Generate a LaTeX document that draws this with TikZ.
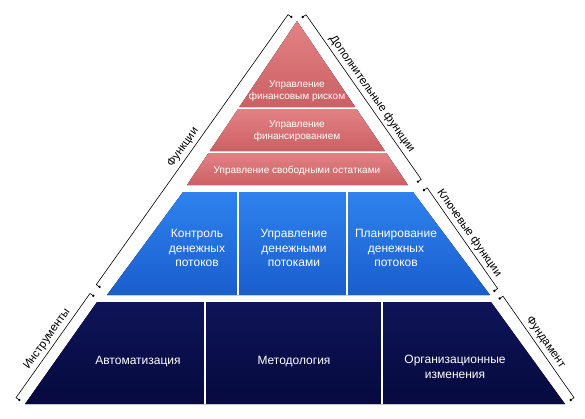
\documentclass[tikz,border=0pt]{standalone}
\usepackage{fontspec}
\setmainfont{Liberation Sans}
\usetikzlibrary{calc}
\definecolor{redA}{RGB}{226,130,133}
\definecolor{redB}{RGB}{204,96,100}
\definecolor{blueA}{RGB}{46,130,238}
\definecolor{blueB}{RGB}{26,94,206}
\definecolor{navyA}{RGB}{14,20,88}
\definecolor{navyB}{RGB}{6,10,62}
\newcommand\mybracket[6]{%
  \coordinate (#1a) at ($(A)!#3!(#2)+7*(#5,#6)$);
  \coordinate (#1b) at ($(A)!#3!(#2)+11*(#5,#6)$);
  \coordinate (#1c) at ($(A)!#4!(#2)+11*(#5,#6)$);
  \coordinate (#1d) at ($(A)!#4!(#2)+7*(#5,#6)$);
  \draw[brk] (#1a) -- (#1b) -- (#1c) -- (#1d);
  \fill (#1a) circle (1.3pt);
  \fill (#1d) circle (1.3pt);
}
\begin{document}
\begin{tikzpicture}[x=1pt,y=-1pt,
  tierred/.style={top color=redA,bottom color=redB},
  tierblue/.style={top color=blueA,bottom color=blueB},
  tiernavy/.style={top color=navyA,bottom color=navyB},
  sep/.style={draw=white,line width=2pt},
  brk/.style={draw=black,line width=0.6pt},
  lbl/.style={font=\fontsize{11.5}{13}\selectfont,inner sep=0pt},
  redtext/.style={text=white,align=center,font=\fontsize{10}{12}\selectfont},
  intext/.style={text=white,align=center,font=\fontsize{12}{14.5}\selectfont}]
\useasboundingbox (0,0) rectangle (585,418);
\coordinate (A) at (297,21);
\coordinate (L) at (25,404);
\coordinate (R) at (565,404);
% red tier
\fill[tierred] (297,21) -- (355.2,107) -- (239.3,107) -- cycle;
\fill[tierred] (238.0,109) -- (356.6,109) -- (385.0,151) -- (209.8,151) -- cycle;
\fill[tierred] (208.5,153) -- (386.4,153) -- (408,185) -- (187,185) -- cycle;
% blue tier
\fill[tierblue] (183,192) -- (413,192) -- (490,295) -- (107,295) -- cycle;
\draw[sep] (238,192) -- (238,295);
\draw[sep] (347,192) -- (347,295);
% navy tier
\fill[tiernavy] (97,302) -- (491,302) -- (565,404) -- (25,404) -- cycle;
\draw[sep] (205,302) -- (205,404);
\draw[sep] (382,302) -- (382,404);
% texts
\node[redtext] (r1) at (297,91) {Управление\\финансовым риском};
\node[redtext] (r2) at (297,131) {Управление\\финансированием};
\node[redtext] (r3) at (297,171) {Управление свободными остатками};
\node[intext] (b1) at (197,248) {Контроль\\денежных\\потоков};
\node[intext] (b2) at (294,248) {Управление\\денежными\\потоками};
\node[intext] (b3) at (396,248) {Планирование\\денежных\\потоков};
\node[intext] (n1) at (138,362) {Автоматизация};
\node[intext] (n2) at (294,362) {Методология};
\node[intext] (n3) at (455,367) {Организационные\\изменения};
% brackets
\mybracket{fu}{L}{0}{0.705}{-0.815}{-0.579}
\mybracket{in}{L}{0.728}{1}{-0.815}{-0.579}
\mybracket{dp}{R}{0}{0.43}{0.819}{-0.573}
\mybracket{kl}{R}{0.452}{0.715}{0.819}{-0.573}
\mybracket{fd}{R}{0.735}{1}{0.819}{-0.573}
\node[lbl,rotate=54.6] (lfu) at ($(A)!0.36!(L)+19.5*(-0.815,-0.579)$) {Функции};
\node[lbl,rotate=54.6] (lin) at ($(A)!0.86!(L)+19.5*(-0.815,-0.579)$) {Инструменты};
\node[lbl,rotate=-55] (ldp) at ($(A)!0.22!(R)+19.5*(0.819,-0.573)$) {Дополнительные функции};
\node[lbl,rotate=-55] (lkl) at ($(A)!0.583!(R)+19.5*(0.819,-0.573)$) {Ключевые функции};
\node[lbl,rotate=-55] (lfd) at ($(A)!0.868!(R)+19.5*(0.819,-0.573)$) {Фундамент};
\end{tikzpicture}
\end{document}
